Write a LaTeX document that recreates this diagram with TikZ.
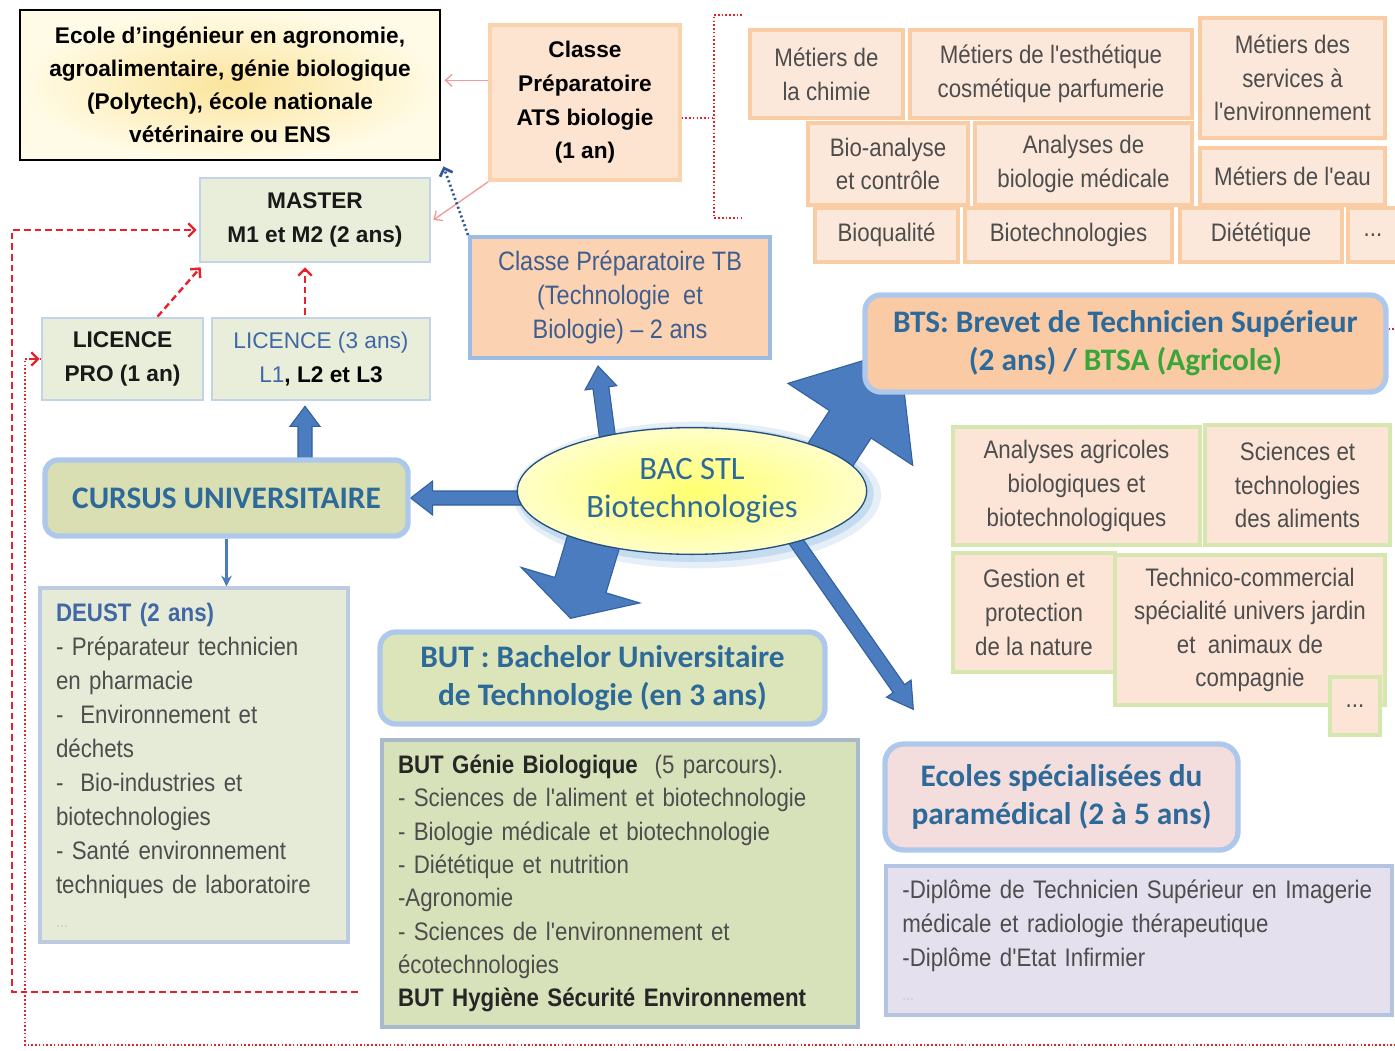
\documentclass[tikz,border=0pt]{standalone}
\usepackage{fontspec}
\setmainfont{Liberation Sans}
\newfontfamily\narrowf{Liberation Sans}[FakeStretch=0.88]
\newfontfamily\calib{Carlito}
\usetikzlibrary{calc,arrows.meta,shapes.geometric}
\pgfdeclarelayer{glow}\pgfdeclarelayer{bg}
\pgfsetlayers{glow,bg,main}
\definecolor{ecoleIn}{HTML}{FBE49C}
\definecolor{ecoleOut}{HTML}{FFFBE6}
\definecolor{atsFill}{HTML}{FCE4D0}
\definecolor{atsDraw}{HTML}{FAD2AE}
\definecolor{metFill}{HTML}{FCE8DA}
\definecolor{metDraw}{HTML}{F9CCA4}
\definecolor{masFill}{HTML}{E9EEDB}
\definecolor{masDraw}{HTML}{C4D4E8}
\definecolor{cursusFill}{HTML}{D9DFB2}
\definecolor{titleDraw}{HTML}{AEC8EC}
\definecolor{titleBlue}{HTML}{2D6A99}
\definecolor{deustFill}{HTML}{E6EBD8}
\definecolor{deustDraw}{HTML}{BCCBE0}
\definecolor{prepFill}{HTML}{FBD3B3}
\definecolor{prepDraw}{HTML}{9DBCE4}
\definecolor{prepText}{HTML}{3F5E8E}
\definecolor{licBlue}{HTML}{4068A6}
\definecolor{btsFill}{HTML}{F9CAA4}
\definecolor{btsGreen}{HTML}{3AA63A}
\definecolor{subFill}{HTML}{FCE5D7}
\definecolor{subDraw}{HTML}{D5E6AE}
\definecolor{butTFill}{HTML}{DCE4B9}
\definecolor{butCFill}{HTML}{D7E2BB}
\definecolor{butCDraw}{HTML}{A9B9CC}
\definecolor{ecTFill}{HTML}{F3DDDD}
\definecolor{ecCFill}{HTML}{E5E0EE}
\definecolor{ecCDraw}{HTML}{B3C3E0}
\definecolor{grayT}{HTML}{4D4D4D}
\definecolor{faint}{HTML}{C8C8C8}
\definecolor{arrFill}{HTML}{4A7CBF}
\definecolor{arrDraw}{HTML}{30609E}
\definecolor{redC}{HTML}{E8202A}
\definecolor{redLight}{HTML}{F29A9A}
\definecolor{blueDot}{HTML}{2F5597}
\definecolor{ellIn}{HTML}{FFFF70}
\definecolor{ellOut}{HTML}{FFFFC8}
\definecolor{ellDraw}{HTML}{24507E}
\definecolor{glowC}{HTML}{9DC3E6}
\newcommand\fs[2]{\fontsize{#1}{#2}\selectfont}
\newcommand\mkbox[7]{\node[#6, minimum width={(#4-#2)*0.75pt}, minimum height={(#5-#3)*0.75pt}] (#1) at ({(#2+#4)/2},{(#3+#5)/2}) {#7};}
\newcommand\barrow[5]{%
  \coordinate (ba-s) at #1; \coordinate (ba-t) at #2;
  \coordinate (ba-b) at ($(ba-t)!#5!(ba-s)$);
  \draw[blockarr] ($(ba-s)!#3!90:(ba-t)$) -- ($(ba-b)!#3!90:(ba-t)$) -- ($(ba-b)!#4!90:(ba-t)$) -- (ba-t)
    -- ($(ba-b)!#4!-90:(ba-t)$) -- ($(ba-b)!#3!-90:(ba-t)$) -- ($(ba-s)!#3!-90:(ba-t)$) -- cycle;}
\begin{document}
\begin{tikzpicture}[x=0.75pt,y=-0.75pt,
  every node/.style={align=center},
  ecolest/.style={draw=black, line width=2.2pt, inner color=ecoleIn, outer color=ecoleOut, font=\fs{17}{24.8}\bfseries, text=black},
  atsst/.style={fill=atsFill, draw=atsDraw, line width=2.5pt, font=\fs{17}{25.3}\bfseries, text=black},
  metier/.style={fill=metFill, draw=metDraw, line width=3pt, font=\narrowf\fs{19}{25.3}, text=grayT},
  mastst/.style={fill=masFill, draw=masDraw, line width=2pt, font=\fs{17}{25.5}\bfseries, text=black!90},
  licst/.style={fill=masFill, draw=masDraw, line width=2pt, font=\fs{17}{25.5}, text=licBlue},
  titlest/.style={line width=4pt, draw=titleDraw, rounded corners=10pt, font=\calib\bfseries\fs{23.5}{28.5}, text=titleBlue},
  deustst/.style={fill=deustFill, draw=deustDraw, line width=2.5pt, align=left, font=\narrowf\fs{19}{25.5}, text=grayT, inner xsep=12pt},
  prepst/.style={fill=prepFill, draw=prepDraw, line width=3pt, font=\narrowf\fs{20}{25.5}, text=prepText},
  btssub/.style={fill=subFill, draw=subDraw, line width=3pt, font=\narrowf\fs{19}{25.2}, text=grayT},
  butc/.style={fill=butCFill, draw=butCDraw, line width=2.5pt, align=left, font=\narrowf\fs{19}{25}, text=grayT, inner xsep=12pt},
  ecc/.style={fill=ecCFill, draw=ecCDraw, line width=2.5pt, align=left, font=\narrowf\fs{19}{25.5}, text=grayT, inner xsep=12pt},
  blockarr/.style={fill=arrFill, draw=arrDraw, line width=0.8pt, line join=miter},
  redthin/.style={draw=redLight, line width=1pt, -{Straight Barb[length=5pt,width=9pt]}},
  reddash/.style={draw=redC, line width=1.8pt, dash pattern=on 5pt off 3pt, -{Straight Barb[length=5pt,width=10pt]}},
  reddot/.style={draw=redC, line width=1.6pt, dash pattern=on 1.2pt off 1.6pt},
  bluedot/.style={draw=blueDot, line width=2pt, dash pattern=on 1.5pt off 2pt, -{Straight Barb[length=5pt,width=10pt]}},
  thinblue/.style={draw=arrFill, line width=1.6pt, -{Stealth[length=8pt,width=8pt]}}
]
\useasboundingbox (0,0) rectangle (1395,1050);
\begin{pgfonlayer}{glow}
\fill[white] (0,0) rectangle (1395,1050);
\node[ellipse, fill=glowC, opacity=0.25, minimum width=276pt, minimum height=110pt] (ellglowA) at (697,495) {};
\node[ellipse, fill=glowC, opacity=0.45, minimum width=268pt, minimum height=102pt] (ellglowB) at (695,494) {};
\end{pgfonlayer}

% ---- boxes ----
\mkbox{ecole}{20}{10}{440}{160}{ecolest}{Ecole d'ingénieur en agronomie,\\agroalimentaire, génie biologique\\(Polytech), école nationale\\vétérinaire ou ENS}
\mkbox{ats}{490}{25}{680}{180}{atsst}{Classe\\Préparatoire\\ATS biologie\\(1 an)}
\mkbox{master}{200}{178}{430}{262}{mastst}{MASTER\\M1 et M2 (2 ans)}
\mkbox{lpro}{42}{318}{203}{400}{mastst}{LICENCE\\PRO (1 an)}
\mkbox{lic}{212}{318}{430}{400}{licst}{LICENCE (3 ans)\\L1{\color{black}\bfseries, L2 et L3}}
\mkbox{cursus}{45}{460}{408}{536}{titlest, fill=cursusFill}{CURSUS UNIVERSITAIRE}
\mkbox{deust}{40}{588}{348}{942}{deustst, text width=207pt}{{\color{licBlue}\bfseries DEUST (2 ans)}\\- Préparateur technicien\\en pharmacie\\- \ Environnement et\\déchets\\- \ Bio-industries et\\biotechnologies\\- Santé environnement\\techniques de laboratoire\\{\color{faint}\fs{12}{25.5}...}}
\mkbox{prepatb}{470}{237}{770}{358}{prepst}{Classe Préparatoire TB\\(Technologie \ et\\Biologie) – 2 ans}

% metiers
\mkbox{m1}{750}{30}{903}{118}{metier}{Métiers de\\la chimie}
\mkbox{m2}{910}{30}{1192}{118}{metier}{Métiers de l'esthétique\\cosmétique parfumerie}
\mkbox{m3}{1200}{18}{1385}{138}{metier}{Métiers des\\services à\\l'environnement}
\mkbox{m4}{808}{123}{968}{205}{metier}{Bio-analyse\\et contrôle}
\mkbox{m5}{975}{123}{1192}{205}{metier}{Analyses de\\biologie médicale}
\mkbox{m6}{1200}{148}{1385}{205}{metier}{Métiers de l'eau}
\mkbox{m7}{815}{208}{958}{262}{metier}{Bioqualité}
\mkbox{m8}{965}{208}{1172}{262}{metier}{Biotechnologies}
\mkbox{m9}{1180}{208}{1342}{262}{metier}{Diététique}
\mkbox{m10}{1348}{208}{1398}{262}{metier}{...}

% BTS
\mkbox{bts}{865}{295}{1386}{392}{titlest, fill=btsFill, rounded corners=12pt}{BTS: Brevet de Technicien Supérieur\\(2 ans) / {\color{btsGreen}BTSA (Agricole)}}
\mkbox{s1}{953}{427}{1200}{545}{btssub}{Analyses agricoles\\biologiques et\\biotechnologiques}
\mkbox{s2}{1205}{425}{1390}{545}{btssub}{Sciences et\\technologies\\des aliments}
\mkbox{s3}{953}{553}{1115}{672}{btssub}{Gestion et\\protection\\de la nature}
\mkbox{s4}{1115}{555}{1385}{705}{btssub}{Technico-commercial\\spécialité univers jardin\\et \ animaux de\\compagnie}
\mkbox{s5}{1330}{677}{1380}{735}{btssub}{...}

% BUT
\mkbox{buttitle}{380}{632}{825}{724}{titlest, fill=butTFill, rounded corners=12pt}{BUT : Bachelor Universitaire\\de Technologie (en 3 ans)}
\mkbox{butcontent}{382}{740}{858}{1027}{butc, text width=333pt}{{\color{black!85}\bfseries BUT Génie Biologique} \ (5 parcours).\\- Sciences de l'aliment et biotechnologie\\- Biologie médicale et biotechnologie\\- Diététique et nutrition\\-Agronomie\\- Sciences de l'environnement et\\écotechnologies\\{\color{black!85}\bfseries BUT Hygiène Sécurité Environnement}}

% Ecoles
\mkbox{ecoltitle}{885}{744}{1238}{850}{titlest, fill=ecTFill, rounded corners=14pt}{Ecoles spécialisées du\\paramédical (2 à 5 ans)}
\mkbox{ecolcontent}{886}{866}{1392}{1015}{ecc, text width=355pt}{-Diplôme de Technicien Supérieur en Imagerie\\médicale et radiologie thérapeutique\\-Diplôme d'Etat Infirmier\\{\color{faint}\fs{12}{25.5}...}}

% central ellipse
\node[ellipse, draw=ellDraw, line width=1pt, inner color=ellIn, outer color=ellOut, minimum width=262pt, minimum height=95pt, inner sep=0pt, font=\calib\fs{24.5}{28.5}, text=titleBlue] (ell) at (692,491) {BAC STL\\Biotechnologies};

% ---- block arrows (behind) ----
\begin{pgfonlayer}{bg}
\barrow{(ell.center |- cursus.east)}{(cursus.east)}{5.25pt}{12.75pt}{16.5pt}
\barrow{($(lic.south)+(-16,75)$)}{($(lic.south)+(-16,5)$)}{5.25pt}{11.25pt}{15pt}
\barrow{($(ell.center)+(-80,-20)$)}{($(prepatb.south)+(-22,6)$)}{6pt}{12pt}{16.5pt}
\barrow{($(ell.center)+(127,-19)$)}{($(bts.south west)+(37,-45)$)}{18.75pt}{56pt}{67pt}
\barrow{($(ell.center)+(-92,29)$)}{($(buttitle.north)+(-32,-11)$)}{20pt}{46.5pt}{26pt}
\barrow{($(ell.center)+(103,49)$)}{($(ecoltitle.north west)+(31,-32)$)}{5.25pt}{11.25pt}{19pt}
\end{pgfonlayer}

% ---- connectors ----
\draw[thinblue] (cursus.south) -- (cursus.south |- deust.north);
\coordinate (atsL) at ($(ats.north west)!0.36!(ats.south west)$);
\draw[redthin] (atsL) -- ($(atsL -| ecole.east)+(3,0)$);
\draw[redthin] (ats.south west) -- ($(master.east)+(2,0)$);
\draw[reddash] ($(lpro.north)+(35,0)$) -- ($(master.south west)+(2,4)$);
\draw[reddash] ($(lic.north)+(-16,-2)$) -- ($(master.south)+(-10,4)$);
\coordinate (dashend) at (358,992);
\coordinate (dl) at (12,992);
\coordinate (ul) at (12,230);
\draw[reddash] (dashend) -- (dl) -- (ul) -- ($(ul -| master.west)+(-2,0)$);
\coordinate (btsR) at ($(bts.north east)!0.36!(bts.south east)$);
\coordinate (rb) at (1402,1045);
\coordinate (lb) at (25,1045);
\draw[reddot] (btsR) -- (btsR -| rb) -- (rb) -- (lb) -- (lb |- lpro.west) -- (lpro.west);
\draw[redC, line width=1.8pt, -{Straight Barb[length=5pt,width=10pt]}] ($(lpro.west)+(-12,0)$) -- ($(lpro.west)+(-1,0)$);
\coordinate (atsR) at ($(ats.north east)!0.6!(ats.south east)$);
\coordinate (brtop) at (714,15);
\coordinate (brbot) at (714,218);
\draw[reddot] (atsR) -- (atsR -| brtop);
\draw[reddot] ($(brtop)+(28,0)$) -- (brtop) -- (brbot) -- ($(brbot)+(28,0)$);
\draw[bluedot] (prepatb.north west) -- ($(ecole.south east)+(2,5)$);
\end{tikzpicture}
\end{document}
